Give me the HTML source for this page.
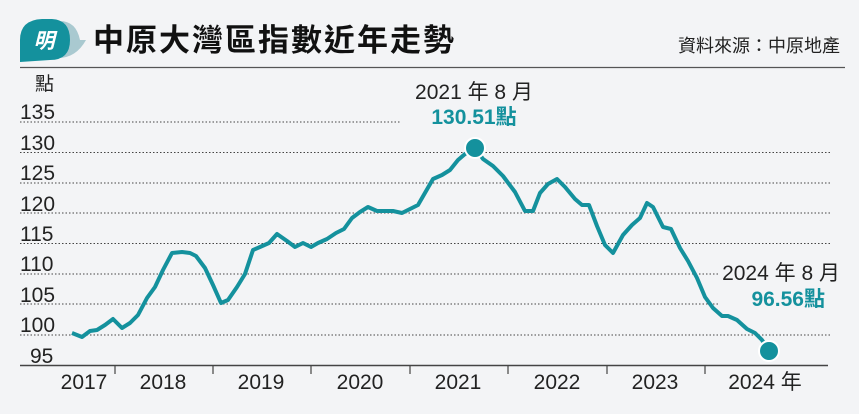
<!DOCTYPE html>
<html><head><meta charset="utf-8"><style>
body{margin:0;background:#f3f4f6;}
svg{display:block}
text{font-family:"Liberation Sans Narrow","Liberation Sans","Noto Sans CJK TC",sans-serif;}
</style></head><body>
<svg width="859" height="414" viewBox="0 0 859 414" xmlns="http://www.w3.org/2000/svg">
<rect width="859" height="414" fill="#f3f4f6"/>
<path d="M58 21 Q76 20 80 40 L86 40 Q76 58 58 58 Z" fill="#a9c9d0"/>
<path d="M20 40 Q20 20 42 19 L52 19 Q70 20 70 40 Q70 60 50 60 L20 62 Z" fill="#14919d"/>
<text x="44" y="48" font-size="21" font-weight="bold" fill="#fff" text-anchor="middle" font-family="Noto Sans CJK TC,sans-serif" font-style="italic">明</text>
<text x="93" y="51" font-size="31" font-weight="bold" fill="#111" style="font-family:'Noto Sans CJK TC',sans-serif" letter-spacing="2">中原大灣區指數近年走勢</text>
<text x="840" y="52" font-size="18" fill="#222" text-anchor="end" style="font-family:'Noto Sans CJK TC',sans-serif">資料來源：中原地產</text>
<line x1="20" y1="67.5" x2="845" y2="67.5" stroke="#555" stroke-width="1.2"/>
<text x="35" y="90" font-size="19" fill="#222" style="font-family:'Noto Sans CJK TC',sans-serif">點</text>
<g stroke="#444" stroke-width="1" stroke-dasharray="1.5,2">
<line x1="20" y1="122" x2="400" y2="122"/>
<line x1="20" y1="152.5" x2="830" y2="152.5"/>
<line x1="20" y1="183" x2="830" y2="183"/>
<line x1="20" y1="213" x2="830" y2="213"/>
<line x1="20" y1="243.5" x2="830" y2="243.5"/>
<line x1="20" y1="274" x2="720" y2="274"/>
<line x1="20" y1="304" x2="720" y2="304"/>
<line x1="20" y1="335" x2="830" y2="335"/>
</g>
<g font-size="21" fill="#222">
<text x="20" y="119">135</text><text x="20" y="150">130</text><text x="20" y="180">125</text>
<text x="20" y="211">120</text><text x="20" y="241">115</text><text x="20" y="271">110</text>
<text x="20" y="302">105</text><text x="20" y="332">100</text><text x="30" y="363">95</text>
</g>
<line x1="20" y1="365.5" x2="828" y2="365.5" stroke="#444" stroke-width="1.5"/>
<g stroke="#444" stroke-width="1.2">
<line x1="115" y1="366" x2="115" y2="374"/><line x1="213" y1="366" x2="213" y2="374"/>
<line x1="311" y1="366" x2="311" y2="374"/><line x1="410" y1="366" x2="410" y2="374"/>
<line x1="508" y1="366" x2="508" y2="374"/><line x1="607" y1="366" x2="607" y2="374"/>
<line x1="705" y1="366" x2="705" y2="374"/>
</g>
<g font-size="21" fill="#222" text-anchor="middle">
<text x="84" y="389">2017</text><text x="163" y="389">2018</text><text x="261" y="389">2019</text>
<text x="360" y="389">2020</text><text x="458" y="389">2021</text><text x="557" y="389">2022</text>
<text x="655" y="389">2023</text><text x="765" y="389">2024 <tspan style="font-family:'Noto Sans CJK TC',sans-serif">年</tspan></text>
</g>
<polyline fill="none" stroke="#14919d" stroke-width="4" stroke-linejoin="round" points="72,333 82,337 90,331 97,330 105,325 113,319 122,328 130,323 138,315 147,298 155,287 163,270 172,253 182,252 190,253 196,256 205,268 213,285 221,303 228,300 237,287 245,274 253,250 260,247 269,243 277,234 287,241 295,247 303,243 311,247 318,243 327,239 336,233 344,229 352,218 360,212 368,207 377,211 393,211 402,213 418,205 433,179 442,175 450,170 458,160 465,154 475,148 483,159 493,166 503,176 515,192 525,211 533,211 540,193 548,184 557,179 565,187 575,199 582,205 589,205 597,226 605,245 613,253 623,235 632,225 640,218 647,203 653,207 663,227 671,229 680,248 688,261 697,278 705,297 713,308 722,316 728,316 737,320 747,329 755,333 762,340 769,351"/>
<circle cx="475" cy="148" r="10" fill="#14919d" stroke="#fff" stroke-width="2"/>
<circle cx="769" cy="351" r="10" fill="#14919d" stroke="#fff" stroke-width="2"/>
<text x="474" y="99" font-size="21" fill="#222" text-anchor="middle">2021 <tspan style="font-family:'Noto Sans CJK TC',sans-serif">年</tspan> 8 <tspan style="font-family:'Noto Sans CJK TC',sans-serif">月</tspan></text>
<text x="474" y="124" font-size="21" font-weight="bold" fill="#14919d" text-anchor="middle">130.51<tspan style="font-family:'Noto Sans CJK TC',sans-serif">點</tspan></text>
<text x="840" y="280" font-size="21" fill="#222" text-anchor="end">2024 <tspan style="font-family:'Noto Sans CJK TC',sans-serif">年</tspan> 8 <tspan style="font-family:'Noto Sans CJK TC',sans-serif">月</tspan></text>
<text x="825" y="306" font-size="21" font-weight="bold" fill="#14919d" text-anchor="end">96.56<tspan style="font-family:'Noto Sans CJK TC',sans-serif">點</tspan></text>
</svg>
</body></html>
